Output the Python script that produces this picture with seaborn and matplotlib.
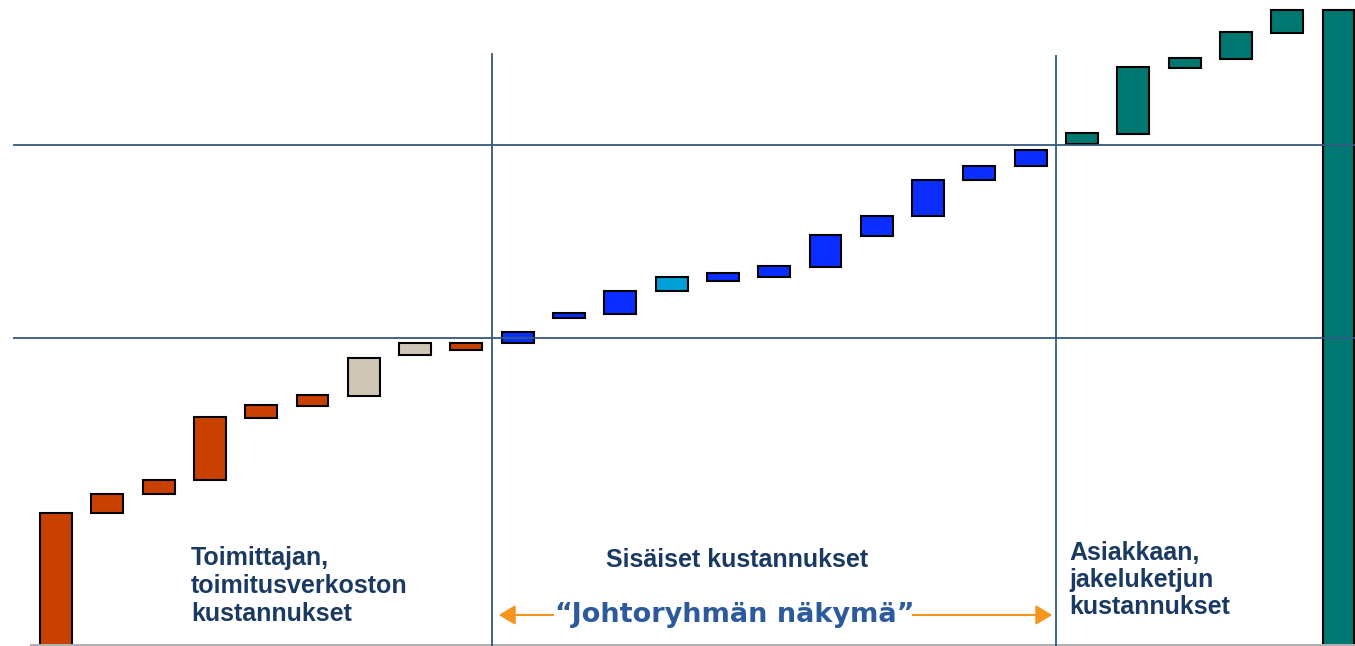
import matplotlib
matplotlib.use("Agg")
import matplotlib.pyplot as plt
import seaborn as sns
import numpy as np
import pandas as pd

# waterfall steps: lower and upper end of each floating bar
lows = [0, 133, 152, 166, 228, 240, 250, 291, 296,
        303, 328, 332, 355, 365, 369, 379, 410, 430, 466, 480,
        502, 512, 578, 587, 613, 0]
highs = [133, 152, 166, 229, 241, 251, 288, 303, 303,
         314, 333, 355, 369, 373, 380, 411, 430, 466, 480, 496,
         513, 579, 588, 614, 636, 636]
bar_colors = (["#C94100"] * 6 + ["#D0C6B8"] * 2 + ["#C94100"]
              + ["#0A2EFF"] * 3 + ["#009FD8"] + ["#0A2EFF"] * 7
              + ["#007770"] * 6)
level_lines = [308, 501]
section_breaks = [8.5, 19.5]
break_tops = [593, 591]

sns.set_theme(style="white")
plt.rcParams["font.family"] = ["Liberation Sans", "DejaVu Sans"]

df = pd.DataFrame({"step": np.arange(len(lows)),
                   "height": np.array(highs) - np.array(lows)})

fig = plt.figure(figsize=(13.55, 6.46), dpi=100)
ax = fig.add_axes([0, 0, 1, 1])
sns.barplot(data=df, x="step", y="height", bottom=np.array(lows),
            color="#C94100", saturation=1, width=0.62, errorbar=None,
            edgecolor="black", linewidth=1.5, ax=ax)
for patch, c in zip(ax.patches, bar_colors):
    patch.set_facecolor(c)

x0 = -56 / 51.3
x1 = (1355 - 56) / 51.3
ax.set_xlim(x0, x1)
ax.set_ylim(0, 646)
ax.axis("off")

line_col = "#34577F"
for y in level_lines:
    ax.hlines(y, -0.84, x1, color=line_col, lw=1.3, zorder=3)
for xb, top in zip(section_breaks, break_tops):
    ax.vlines(xb, 0, top, color=line_col, lw=1.3, zorder=3)
ax.hlines(1, (30 - 56) / 51.3, x1, color="#B0B0B0", lw=1.5)

txt_col = "#1B3A63"
fig.text(191 / 1355, 1 - 546 / 646, "Toimittajan,\ntoimitusverkoston\nkustannukset",
         ha="left", va="top", fontsize=18, fontweight="bold", color=txt_col,
         linespacing=1.2)
fig.text(737 / 1355, 1 - 560 / 646, "Sisäiset kustannukset",
         ha="center", va="center", fontsize=18, fontweight="bold", color=txt_col)
fig.text(1069 / 1355, 1 - 541 / 646, "Asiakkaan,\njakeluketjun\nkustannukset",
         ha="left", va="top", fontsize=18, fontweight="bold", color=txt_col,
         linespacing=1.17)
fig.text(735 / 1355, 1 - 615 / 646, "\u201cJohtoryhmän näkymä\u201d",
         ha="center", va="center", fontsize=19.5, fontweight="bold",
         color="#2D5A9B", family=["DejaVu Sans"])

arrow_col = "#F7941D"
ay = 1 - 615 / 646
fig.add_artist(matplotlib.patches.FancyArrowPatch(
    (556 / 1355, ay), (496 / 1355, ay), transform=fig.transFigure,
    arrowstyle="-|>,head_length=10,head_width=6", color=arrow_col, lw=1.5))
fig.add_artist(matplotlib.patches.FancyArrowPatch(
    (910 / 1355, ay), (1055 / 1355, ay), transform=fig.transFigure,
    arrowstyle="-|>,head_length=10,head_width=6", color=arrow_col, lw=1.5))

fig.savefig("out.png", dpi=100, facecolor="white")
